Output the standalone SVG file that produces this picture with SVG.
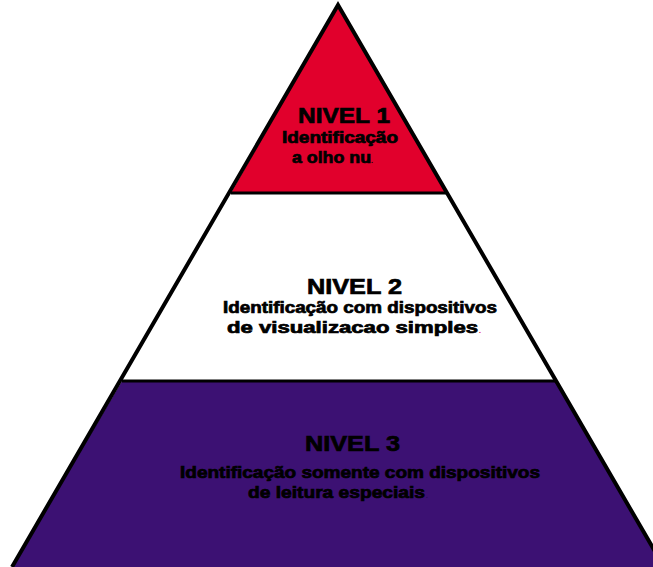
<svg xmlns="http://www.w3.org/2000/svg" width="653" height="567" viewBox="0 0 653 567">
<style>
.t{font-family:"Liberation Sans",Arial,sans-serif;font-weight:bold;fill:#000;stroke:#000;stroke-width:0.7;paint-order:stroke}
.h{font-size:22px}
.s{font-size:16px}
.dot{font-size:7px;stroke:none}
.edge{stroke:#000;stroke-width:4;fill:none;stroke-linejoin:miter}
.div{stroke:#000;stroke-width:3}
</style>
<rect width="653" height="567" fill="#fff"/>
<g id="nivel1">
<polygon points="338,5 231,193 447,193" fill="#E1002C"/>
<text class="t h" x="298" y="123" textLength="92" lengthAdjust="spacingAndGlyphs">NIVEL 1</text>
<text class="t s" x="282" y="143" textLength="116" lengthAdjust="spacingAndGlyphs">Identificação</text>
<text class="t s" x="292" y="163" textLength="79" lengthAdjust="spacingAndGlyphs">a olho nu</text>
<text class="t dot" x="371" y="163">.</text>
</g>
<g id="nivel2">
<polygon points="231,193 447,193 556,381 122,381" fill="#fff"/>
<text class="t h" x="307" y="294" textLength="95" lengthAdjust="spacingAndGlyphs">NIVEL 2</text>
<text class="t s" x="223" y="313" textLength="274" lengthAdjust="spacingAndGlyphs">Identificação com dispositivos</text>
<text class="t s" x="227" y="333" textLength="251" lengthAdjust="spacingAndGlyphs">de visualizacao simples</text>
<text class="t dot" x="479" y="333" style="fill:#E1002C">.</text>
</g>
<g id="nivel3">
<polygon points="122,381 556,381 664,567 12,567" fill="#3C1173"/>
<text class="t h" x="305" y="451" textLength="95" lengthAdjust="spacingAndGlyphs">NIVEL 3</text>
<text class="t s" x="180" y="478" textLength="360" lengthAdjust="spacingAndGlyphs">Identificação somente com dispositivos</text>
<text class="t s" x="248" y="498" textLength="177" lengthAdjust="spacingAndGlyphs">de leitura especiais</text>
<text class="t dot" x="426" y="498" style="fill:#2a0a55">.</text>
</g>
<g id="outline">
<line class="div" x1="231" y1="193" x2="447" y2="193"/>
<line class="div" x1="122" y1="381" x2="556" y2="381"/>
<polyline class="edge" points="12,567 338,5 664,567"/>
</g>
</svg>
